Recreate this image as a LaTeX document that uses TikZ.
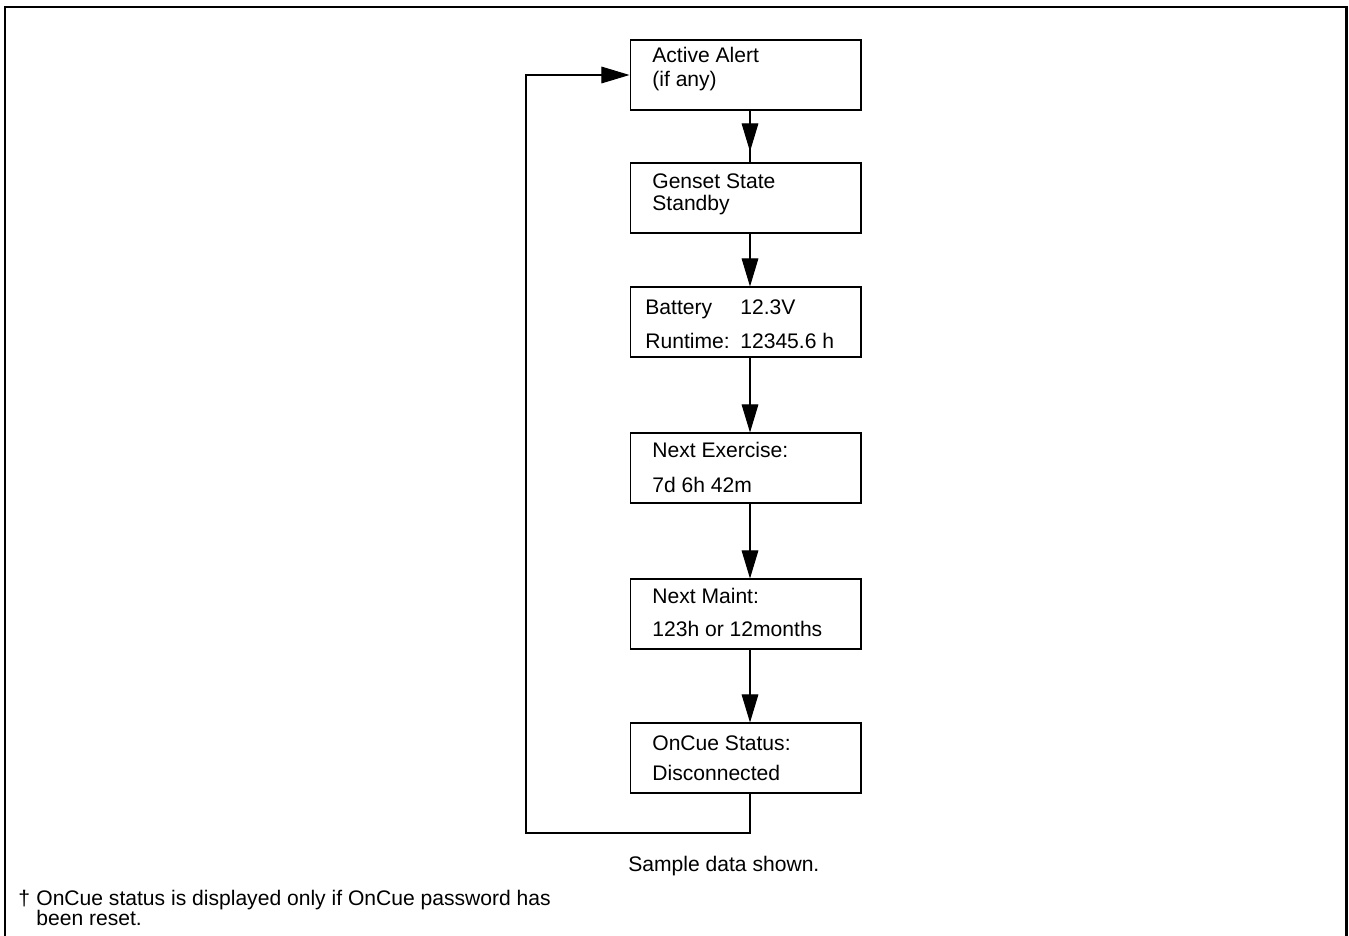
\documentclass[tikz,border=0pt]{standalone}
\usepackage{fontspec}
\setmainfont{Liberation Sans}
\usetikzlibrary{arrows.meta}
\tikzset{
  box/.style={draw,line width=.6pt,minimum width=4.62cm,minimum height=1.4cm,inner sep=0pt},
  txt/.style={anchor=base west,inner sep=0pt,font=\fontsize{12}{14}\selectfont},
  flow/.style={-{Triangle[length=16pt,width=9.5pt]},line width=.6pt},
  frame/.style={line width=1.7pt}
}
\begin{document}
\begin{tikzpicture}[x=.02cm,y=-.02cm]
\useasboundingbox (0,0) rectangle (1349,936);
\draw[frame] (5,936)--(5,7)--(1346,7)--(1346,936);
\coordinate (spine) at (750,0);
\coordinate (loopcorner) at (526,833);
\node[box] (alert) at (745.5,75) {};
\node[box] (state) at (745.5,198) {};
\node[box] (battery) at (745.5,322) {};
\node[box] (exercise) at (745.5,468) {};
\node[box] (maint) at (745.5,614) {};
\node[box] (oncue) at (745.5,758) {};
\node[txt] (alert1) at (652,63) {Active Alert};
\node[txt] (alert2) at (652,87) {(if any)};
\node[txt] (state1) at (652,188) {Genset State};
\node[txt] (state2) at (652,210) {Standby};
\node[txt] (batt1) at (645,314) {Battery};
\node[txt] (batt2) at (740,314) {12.3V};
\node[txt] (run1) at (645,348) {Runtime:};
\node[txt] (run2) at (740,348) {12345.6 h};
\node[txt] (ex1) at (652,457) {Next Exercise:};
\node[txt] (ex2) at (652,492) {7d 6h 42m};
\node[txt] (mt1) at (652,603) {Next Maint:};
\node[txt] (mt2) at (652,636) {123h or 12months};
\node[txt] (oc1) at (652,750) {OnCue Status:};
\node[txt] (oc2) at (652,780) {Disconnected};
% connectors
\draw[line width=.6pt] (alert.south -| spine)--(state.north -| spine);
\draw[flow,shorten >=.22cm] (alert.south -| spine)--(state.north -| spine);
\draw[flow] (state.south -| spine)--(battery.north -| spine);
\draw[flow] (battery.south -| spine)--(exercise.north -| spine);
\draw[flow] (exercise.south -| spine)--(maint.north -| spine);
\draw[flow] (maint.south -| spine)--(oncue.north -| spine);
\draw[flow] (oncue.south -| spine) |- (loopcorner) |- (alert.west);
\node[txt] (sample) at (628,871) {Sample data shown.};
\node[txt] (dagger) at (18,905) {\dag};
\node[txt] (note1) at (36,905) {OnCue status is displayed only if OnCue password has};
\node[txt] (note2) at (36,925) {been reset.};
\end{tikzpicture}
\end{document}
